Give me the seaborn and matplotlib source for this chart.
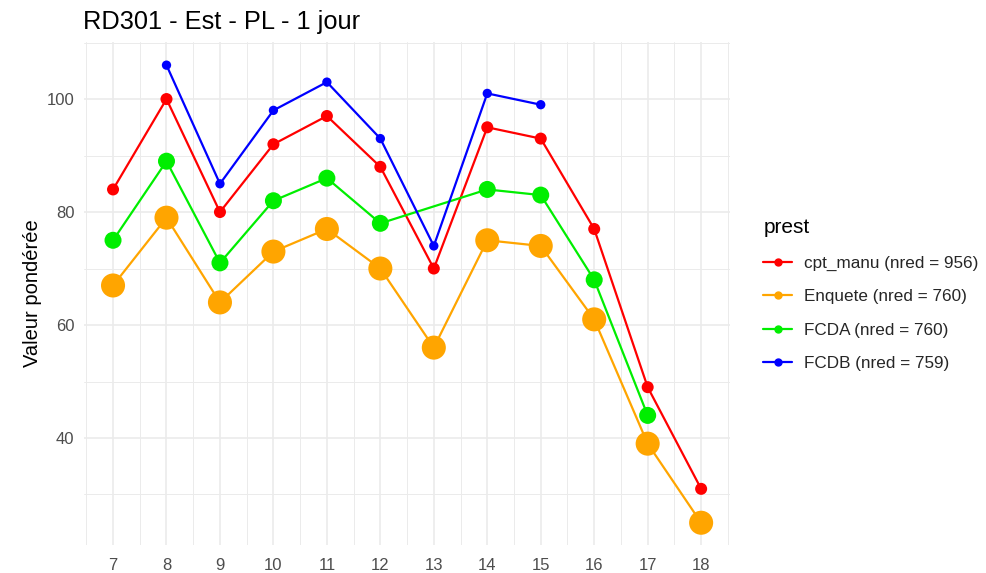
import numpy as np
import pandas as pd
import matplotlib
matplotlib.use("Agg")
import matplotlib.pyplot as plt
import matplotlib.ticker as mticker
from matplotlib.lines import Line2D
import seaborn as sns

sns.set_theme(style="white")
plt.rcParams["font.family"] = ["Liberation Sans", "DejaVu Sans"]

# Données
heures = [7, 8, 9, 10, 11, 12, 13, 14, 15, 16, 17, 18]
cpt_manu = [84, 100, 80, 92, 97, 88, 70, 95, 93, 77, 49, 31]
enquete = [67, 79, 64, 73, 77, 70, 56, 75, 74, 61, 39, 25]
fcda = [75, 89, 71, 82, 86, 78, np.nan, 84, 83, 68, 44, np.nan]
fcdb = [np.nan, 106, 85, 98, 103, 93, 74, 101, 99, np.nan, np.nan, np.nan]

labels = ["cpt_manu (nred = 956)", "Enquete (nred = 760)",
          "FCDA (nred = 760)", "FCDB (nred = 759)"]
couleurs = ["#ff0000", "#ffa500", "#00ee00", "#0000ff"]
tailles = [75, 300, 150, 45]

df = pd.DataFrame({"heure": heures * 4,
                   "valeur": cpt_manu + enquete + fcda + fcdb,
                   "prest": np.repeat(labels, len(heures))})

fig = plt.figure(figsize=(9.86, 5.73), dpi=100)
ax = fig.add_axes([84 / 986, 1 - 545 / 573, (730 - 84) / 986, (545 - 42) / 573])

for lab, col, s in zip(labels, couleurs, tailles):
    d = df[df["prest"] == lab].dropna()
    sns.lineplot(data=d, x="heure", y="valeur", color=col, lw=1.6, ax=ax, zorder=3)
    sns.scatterplot(data=d, x="heure", y="valeur", color=col, s=s, edgecolor="none", ax=ax, zorder=4)

ax.set_xlim(6.457, 18.54)
ax.set_ylim(21.06, 110.1)
ax.xaxis.set_major_locator(mticker.FixedLocator(heures))
ax.xaxis.set_minor_locator(mticker.MultipleLocator(1, offset=0.5))
ax.yaxis.set_major_locator(mticker.FixedLocator([40, 60, 80, 100]))
ax.yaxis.set_minor_locator(mticker.FixedLocator([30, 50, 70, 90, 110]))
ax.grid(which="major", color="#ebebeb", lw=1.2)
ax.grid(which="minor", color="#ebebeb", lw=0.7)
ax.set_axisbelow(True)
for sp in ax.spines.values():
    sp.set_visible(False)
ax.tick_params(which="both", length=0, labelsize=12, colors="#4d4d4d")
ax.tick_params(axis="y", pad=7)
ax.tick_params(axis="x", pad=9)
ax.set_xlabel("")
ax.set_ylabel("Valeur pondérée", fontsize=14.5, color="black", labelpad=3)
ax.set_title("RD301 - Est - PL - 1 jour", fontsize=18.3, color="black", loc="left", x=-0.002, pad=9)

handles = [Line2D([0], [0], color=c, lw=1.6, marker="o", markersize=5) for c in couleurs]
leg = fig.legend(handles, labels, title="prest", loc="upper left",
                 bbox_to_anchor=(748 / 986, 1 - 203 / 573), frameon=False,
                 fontsize=12.3, title_fontsize=15, handlelength=1.7,
                 handletextpad=0.7, labelspacing=1.08, alignment="left")
leg.get_title().set_color("black")

fig.savefig("out.png", dpi=100)
